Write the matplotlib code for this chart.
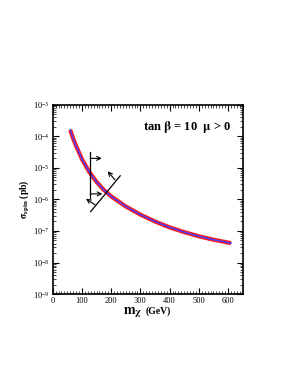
import matplotlib
matplotlib.use("Agg")
import matplotlib.pyplot as plt
from matplotlib.ticker import LogLocator, MultipleLocator, LogFormatterMathtext, NullFormatter

plt.rcParams['font.family'] = ['Liberation Serif', 'DejaVu Serif']
plt.rcParams['mathtext.fontset'] = 'stix'

# neutralino mass (GeV) and spin-dependent cross section (pb)
m_chi = [60, 70, 80, 100, 125, 150, 175, 200, 250, 300, 350, 400, 450, 500, 550, 600, 610]
sigma_spin = [1.6e-4, 8.5e-5, 5.0e-5, 1.9e-5, 7.5e-6, 3.6e-6, 2.0e-6, 1.25e-6, 6.0e-7,
              3.3e-7, 2.0e-7, 1.3e-7, 9.2e-8, 6.8e-8, 5.3e-8, 4.3e-8, 4.1e-8]

# constraint markers (mass limit and diagonal bound)
vline_x = 128
vline_y = [3.2e-5, 1.1e-6]
harrow_y = [2.0e-5, 1.5e-6]
harrow_x_end = [168, 170]
diag_x = [130, 231]
diag_y = [4.1e-7, 5.6e-6]
darrows = [((213, 4.2e-6), (188, 7.8e-6)), ((145, 6.7e-7), (114, 1.05e-6))]

fig = plt.figure(figsize=(2.91, 3.88), dpi=100)
ax = fig.add_axes([0.181, 0.242, 0.653, 0.488])

ax.plot(m_chi, sigma_spin, color='#ff1a1a', lw=3.0, solid_capstyle='butt')
ax.plot(m_chi, sigma_spin, color='#4b3cff', lw=1.1)

ax.plot([vline_x, vline_x], vline_y, color='k', lw=0.9)
arrow_kw = dict(arrowstyle='->', lw=0.8, color='k', mutation_scale=7, shrinkA=0, shrinkB=0)
for y, xe in zip(harrow_y, harrow_x_end):
    ax.annotate('', xy=(xe, y), xytext=(vline_x, y), arrowprops=arrow_kw)
ax.plot(diag_x, diag_y, color='k', lw=0.9)
for start, end in darrows:
    ax.annotate('', xy=end, xytext=start, arrowprops=arrow_kw)

ax.set_yscale('log')
ax.set_xlim(0, 650)
ax.set_ylim(1e-9, 1e-3)
ax.xaxis.set_major_locator(MultipleLocator(100))
ax.xaxis.set_minor_locator(MultipleLocator(10))
ax.yaxis.set_major_locator(LogLocator(base=10, numticks=10))
ax.yaxis.set_minor_locator(LogLocator(base=10, subs=range(2, 10), numticks=20))
ax.yaxis.set_major_formatter(LogFormatterMathtext())
ax.yaxis.set_minor_formatter(NullFormatter())
ax.tick_params(which='both', direction='in', top=True, right=True, labelsize=6, pad=2)
ax.tick_params(which='major', length=4, width=0.8)
ax.tick_params(which='minor', length=2, width=0.5)
for sp in ax.spines.values():
    sp.set_linewidth(1.2)

ax.text(0.707, 0.882, r'tan $\mathbf{\beta}$ = 10  $\mathbf{\mu}$ > 0', transform=ax.transAxes,
        ha='center', va='center', fontsize=9, fontweight='bold')
ax.text(0.47, -0.058, r'$\mathbf{m}_{\mathbf{\chi}}$', transform=ax.transAxes,
        ha='right', va='top', fontsize=10)
ax.text(0.49, -0.063, '(GeV)', transform=ax.transAxes,
        ha='left', va='top', fontsize=7, fontweight='bold')
ax.set_ylabel(r'$\mathbf{\sigma}_{\mathbf{spin}}$ (pb)', fontsize=7, fontweight='bold', labelpad=2)

fig.savefig('out.png', dpi=100)
